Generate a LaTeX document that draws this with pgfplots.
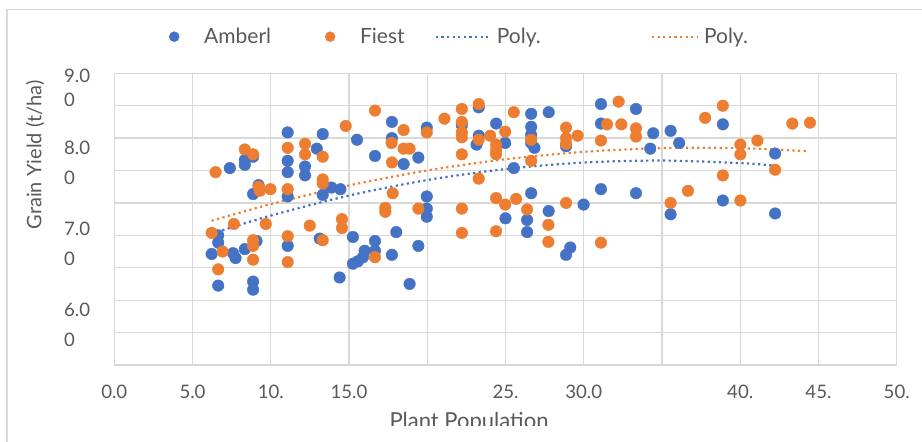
\documentclass[border=0pt]{standalone}
\usepackage{fontspec}
\setmainfont{Lato}
\usepackage{pgfplots}
\pgfplotsset{compat=1.18}
\definecolor{amb}{HTML}{4472C4}
\definecolor{fie}{HTML}{ED7D31}
\definecolor{gridc}{HTML}{D9D9D9}
\definecolor{txt}{HTML}{595959}
\pgfplotsset{
  dotleg/.style={legend image code/.code={\draw[##1, mark size=5pt] plot coordinates {(5pt,0pt)};}},
  lineleg/.style={legend image code/.code={\draw[##1] (0pt,0pt) -- (#1,0pt);}},
}
\begin{document}
\begin{tikzpicture}[x=1pt,y=1pt]
\useasboundingbox (0,0) rectangle (922,442);
\begin{axis}[
  at={(114.3pt,77pt)}, anchor=south west,
  scale only axis, width=782.4pt, height=291.7pt,
  xmin=0, xmax=50, ymin=5.5, ymax=9.1,
  xtick={0,5,...,50},
  xticklabels={0.0,5.0,10.,15.0,,25.,30.0,,40.,45.,50.},
  ytick={6,7,8,8.918},
  yticklabels={{6.0\\0},{7.0\\0},{8.0\\0},{9.0\\[-6pt]0}},
  minor ytick={5.9,6.3,6.7,7.1,7.5,7.9,8.3,8.7},
  xmajorgrids, yminorgrids,
  grid style={gridc, line width=1.3pt},
  minor grid style={gridc, line width=1.3pt},
  axis line style={gridc, line width=1.3pt},
  major tick length=0pt, minor tick length=0pt,
  tick label style={txt, font=\fontsize{18.6}{30}\selectfont, inner sep=0pt},
  xticklabel style={yshift=-20pt},
  yticklabel style={align=left, xshift=-24pt},
  legend columns=4,
  legend style={at={(0.0661,1.1255)}, anchor=west, draw=none, fill=none,
    font=\fontsize{21}{25}\selectfont, text=txt, nodes={inner sep=0pt},
    /tikz/column 1/.style={column sep=25pt},
    /tikz/column 2/.style={column sep=54pt},
    /tikz/column 3/.style={column sep=25pt},
    /tikz/column 4/.style={column sep=30pt},
    /tikz/column 5/.style={column sep=8pt},
    /tikz/column 6/.style={column sep=110pt},
    /tikz/column 7/.style={column sep=5pt}},
]
% Amberl
\addplot[only marks, mark=*, mark size=5.8pt, color=amb, dotleg]
coordinates {
(7.38,7.93) (8.34,8.03) (8.34,7.97) (8.87,8.07) (9.22,7.72) (8.87,7.61) (6.64,7.10) (6.64,7.01)
(6.22,6.87) (7.59,6.88) (7.75,6.82) (8.34,6.93) (9.09,7.03) (6.64,6.48) (8.87,6.53) (8.87,6.43)
(11.08,8.37) (11.08,8.02) (11.08,7.88) (11.08,7.58) (11.08,6.97) (12.19,7.95) (12.19,7.84)
(12.94,8.17) (13.32,8.35) (13.32,7.60) (13.87,7.69) (14.45,7.67) (13.13,7.06) (14.40,6.58)
(15.25,7.08) (15.25,6.75) (15.57,6.78) (15.89,6.83) (16.00,6.91) (16.66,6.91) (16.66,7.03)
(15.51,8.28) (16.66,8.08) (17.74,8.50) (17.74,8.30) (18.49,7.98) (18.02,7.14) (17.74,6.86)
(19.43,8.06) (19.43,6.97) (18.87,6.50) (19.97,8.43) (19.97,7.58) (19.97,7.43) (19.97,7.33)
(22.21,8.46) (23.15,8.22) (23.29,8.33) (23.29,8.68) (24.40,8.48) (24.98,8.24)
(26.64,8.60) (27.76,8.62) (26.64,8.44) (26.64,8.34) (26.64,8.24) (26.85,8.18) (25.53,7.93)
(28.87,8.20) (26.64,7.62) (25.00,7.31) (26.38,7.29) (26.38,7.14) (27.76,7.40) (28.87,6.86)
(29.14,6.95) (29.99,7.48) (31.10,8.72) (31.10,8.48) (31.10,7.67) (33.34,8.66) (33.34,7.62)
(34.44,8.36) (35.55,8.39) (36.10,8.24) (34.25,8.17) (35.55,7.36) (38.89,8.47) (38.89,7.53)
(42.23,8.11) (42.23,7.37)
};
\addlegendentry{Amberl}
% Fiest
\addplot[only marks, mark=*, mark size=5.8pt, color=fie, dotleg]
coordinates {
(6.47,7.88) (8.34,8.16) (8.87,8.10) (6.22,7.13) (7.64,7.24) (6.92,6.90) (6.64,6.68) (8.87,7.04)
(8.87,6.97) (8.87,6.80) (9.22,7.70) (9.30,7.65) (9.98,7.67) (9.68,7.24)
(11.08,8.18) (11.08,7.67) (11.08,7.09) (11.08,6.77) (12.19,8.23) (12.19,8.10) (13.32,8.07)
(13.32,7.79) (13.32,7.74) (13.32,7.04) (12.49,7.22) (14.55,7.30) (14.55,7.19) (14.79,8.45)
(16.66,8.64) (17.72,8.24) (17.74,8.00) (18.49,8.40) (18.49,8.17) (18.87,8.17) (17.79,7.62)
(17.32,7.44) (17.32,7.39) (19.43,7.43) (16.66,6.83) (19.97,8.37)
(21.10,8.54) (22.21,8.66) (22.21,8.50) (22.21,8.37) (22.21,8.31) (22.21,8.10) (22.21,7.43)
(22.21,7.13) (23.29,8.72) (23.29,8.28) (23.29,7.80) (24.02,8.33) (24.40,8.22) (24.40,8.15)
(24.40,8.10) (24.40,7.56) (24.40,7.15) (24.98,8.38) (25.53,8.62) (26.64,8.28) (26.64,8.02)
(28.87,8.43) (28.87,8.30) (28.87,8.23) (29.61,8.33) (31.10,8.27) (31.49,8.47) (32.40,8.47)
(32.23,8.75) (33.34,8.42) (33.34,8.32) (37.76,8.55) (38.89,8.70) (40.01,8.22) (40.01,8.10)
(41.10,8.27) (43.33,8.48) (44.46,8.49) (42.23,7.91) (38.89,7.84)
(24.98,7.48) (25.68,7.55) (26.38,7.42) (27.74,7.23) (27.74,7.02) (28.87,7.50) (31.10,7.01)
(35.55,7.50) (36.66,7.65) (40.01,7.53)
};
\addlegendentry{Fiest}
% polynomial trendlines
\addplot[amb, no marks, smooth, line width=2.2pt, dash pattern=on 2.2pt off 3.4pt, lineleg=52pt]
coordinates {(6.22,7.12) (10,7.344) (15,7.591) (20,7.783) (25,7.918) (30,7.999) (35,8.023) (40,7.992) (42.23,7.96)};
\addlegendentry{Poly.}
\addplot[fie, no marks, smooth, line width=2.2pt, dash pattern=on 2.2pt off 3.4pt, lineleg=46pt]
coordinates {(6.22,7.28) (10,7.485) (15,7.716) (20,7.901) (25,8.039) (30,8.131) (35,8.177) (40,8.176) (44.19,8.14)};
\addlegendentry{Poly.}
\end{axis}
\node[rotate=90, text=txt, font=\fontsize{20}{24}\selectfont] at (35,287) {Grain Yield (t/ha)};
\node[anchor=base, text=txt, font=\fontsize{22}{26}\selectfont] at (469,13) {Plant Population};
\fill[white] (300,0) rectangle (650,15.5);
\draw[gridc, line width=1.3pt] (7,-2) -- (7,432.5) -- (930,432.5);
\end{tikzpicture}
\end{document}
